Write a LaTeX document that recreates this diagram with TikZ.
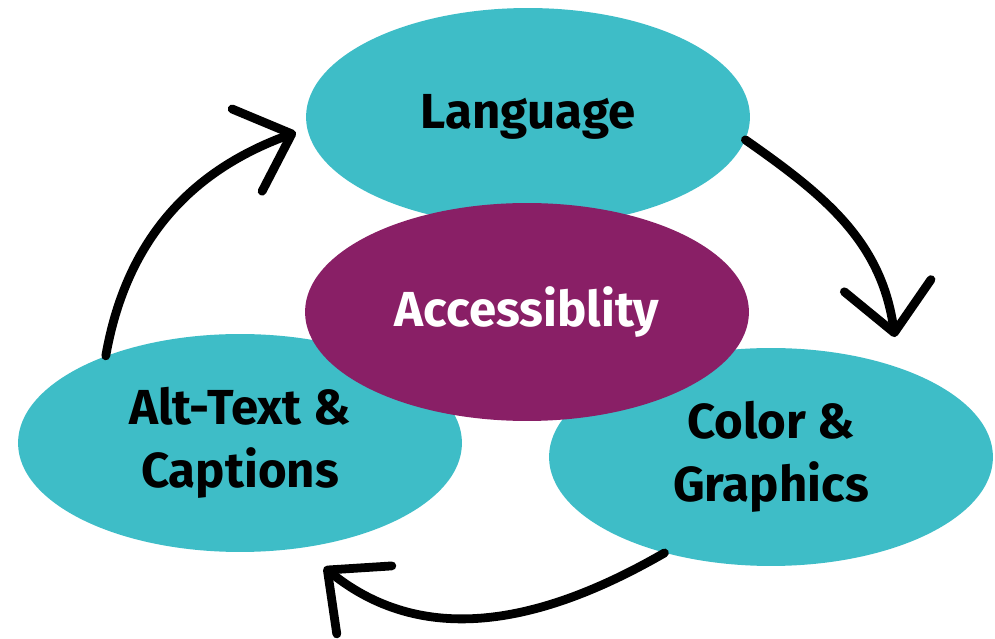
\documentclass[tikz,border=0pt]{standalone}
\usepackage{fontspec}
\setsansfont{Fira Sans}
\usetikzlibrary{shapes.geometric, arrows.meta, positioning}
\definecolor{tealblob}{RGB}{62,189,199}
\definecolor{plum}{RGB}{137,31,102}

\begin{document}
\begin{tikzpicture}[x=0.02cm, y=0.02cm]
    \tikzstyle{blob}=[ellipse, fill=tealblob, minimum width=8.88cm, minimum height=4.36cm, inner sep=0, align=center, font=\sffamily\bfseries\fontsize{28}{36}\selectfont];
    \tikzstyle{brush}=[line width=5pt, line cap=round, line join=round, -{Straight Barb[round, length=0.95cm, width=1.75cm]}];
    \fill[white] (0,0) rectangle (995,639);
    \useasboundingbox (0,0) rectangle (995,639);

    \node[blob] (alt) at (240,196) {Alt-Text \&\\Captions};
    \node[blob] (graph) at (771,182) {Color \&\\Graphics};
    \node[blob] (lang) at (528,522) {Language};
    \node[blob, fill=plum, text=white] (acc) at (527,327) {Accessiblity};

    \coordinate[left=0.24cm of lang.184] (toLang);
    \coordinate[above right=0.45cm and 0.46cm of graph.44] (toGraph);
    \coordinate[below right=0.41cm and 0.28cm of alt.-56] (toAlt);

    \draw[brush] (alt.147) to[out=80, in=200] (toLang);
    \draw[brush] (lang.-6) to[out=-35, in=98] (toGraph);
    \draw[brush] (graph.222) to[out=210, in=-39] (toAlt);
\end{tikzpicture}
\end{document}
